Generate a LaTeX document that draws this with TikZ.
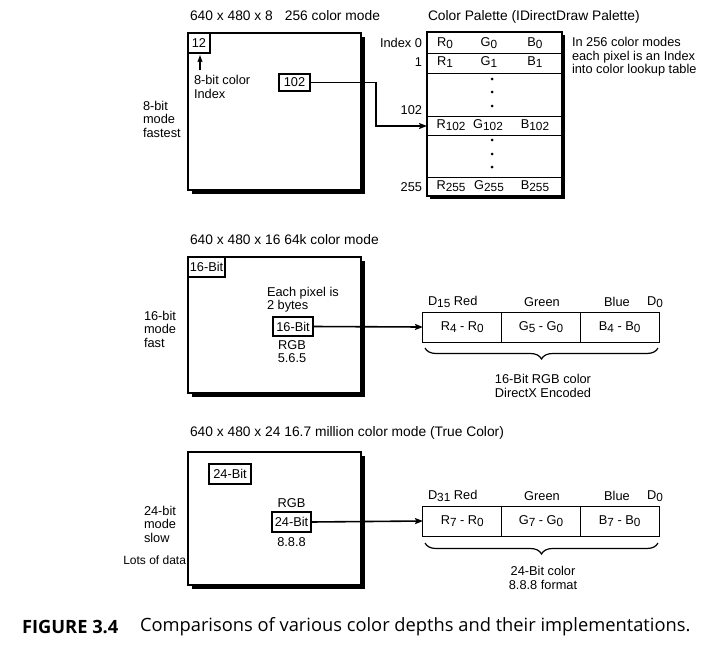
\documentclass[tikz,border=0pt]{standalone}
\usepackage{fontspec}
\setmainfont{Liberation Sans}
\newfontfamily\capfont{Open Sans}
\usetikzlibrary{arrows.meta,shadows,decorations.pathreplacing,calc}
\newcommand\lo[1]{\raisebox{-0.35ex}{\fontsize{11.8}{12}\selectfont #1}}
\begin{document}
\begin{tikzpicture}[x=1pt,y=-1pt,
  every node/.style={inner sep=0pt,outer sep=0pt,font=\fontsize{12.8}{13.5}\selectfont},
  title/.style={anchor=west,font=\fontsize{13.8}{14}\selectfont},
  bigbox/.style={draw,line width=1.8pt,fill=white,anchor=north west,minimum width=173pt,
    drop shadow={shadow xshift=4pt,shadow yshift=-4pt,fill=black,opacity=1}},
  palbox/.style={draw,line width=1.4pt,fill=white,anchor=north west,
    drop shadow={shadow xshift=3pt,shadow yshift=-3pt,fill=black,opacity=1}},
  tagbox/.style={draw,line width=1.5pt,fill=white,minimum height=19pt},
  regcell/.style={draw,line width=1pt,minimum width=78.67pt,minimum height=30pt},
  side/.style={anchor=west,align=left},
  arr/.style={line width=1.6pt,-{Stealth[length=8pt,width=6pt,inset=1.5pt]}},
  brc/.style={line width=1.2pt,decorate,decoration={brace,amplitude=11pt,mirror}},
  dot/.style={circle,fill=black,minimum size=3pt}
]
\useasboundingbox (0,0) rectangle (710,646);

% ---------- section 1 ----------
\node[title] (t1) at (190,16) {640 x 480 x 8\hspace{12pt}256 color mode};
\node[bigbox,minimum height=157pt] (b1) at (188,33) {};
\node[tagbox,anchor=north west,minimum width=22pt,minimum height=20pt] (n12) at (188,33) {12};
\node[side] (lbl8) at (194,87) {8-bit color\\Index};
\coordinate (a12) at (200,70);
\coordinate (h12) at (200,55);
\draw[line width=1.3pt,-{Stealth[length=7pt,width=5pt,inset=1pt]}] (a12) -- (h12);
\node[tagbox,minimum width=31pt,minimum height=17pt] (n102) at (294.5,82.5) {102};
\node[side] (m8) at (143,119) {8-bit\\mode\\fastest};

% palette
\node[title] (pt) at (428,17) {Color Palette (IDirectDraw Palette)};
\node[palbox,minimum width=135pt,minimum height=164pt] (pal) at (427,32) {};
\foreach \yy in {53,73,116,135,177} \draw[line width=1pt] (427,\yy) -- (562,\yy);
\node (r0) at (445,43) {R\lo0};
\node (g0) at (489,43) {G\lo0};
\node (bb0) at (535,43) {B\lo0};
\node (r1) at (445,62) {R\lo1};
\node (g1) at (489,62) {G\lo1};
\node (bb1) at (535,62) {B\lo1};
\node (r102) at (451,125) {R\lo{102}};
\node (g102) at (488,125) {G\lo{102}};
\node (bb102) at (535,125) {B\lo{102}};
\node (r255) at (451,186) {R\lo{255}};
\node (g255) at (489,186) {G\lo{255}};
\node (bb255) at (535,186) {B\lo{255}};
\foreach \yy/\nm in {79/d1,92/d2,106/d3,140/d4,154/d5,167/d6} \node[dot] (\nm) at (492,\yy) {};
\node[anchor=east] (i0) at (422,43) {Index 0};
\node[anchor=east] (i1) at (422,62) {1};
\node[anchor=east] (i102) at (422,110) {102};
\node[anchor=east] (i255) at (422,187) {255};
\node[side] (note) at (572,57) {In 256 color modes\\each pixel is an Index\\into color lookup table};
\coordinate (bend) at (376,126);
\coordinate (p102) at (427,126);
\draw[arr] (n102.east) -| (bend) -- (p102);

% ---------- section 2 ----------
\node[title] (t2) at (190,240) {640 x 480 x 16 64k color mode};
\node[bigbox,minimum height=136pt] (b2) at (188,257) {};
\node[tagbox,anchor=north west,minimum width=37pt,minimum height=20pt] (n16a) at (188,257) {16-Bit};
\node[side] (ep) at (267,299.5) {Each pixel is\\2 bytes};
\node[tagbox,minimum width=40pt] (n16b) at (293,326.5) {16-Bit};
\node (rgb16) at (292,345) {RGB};
\node (f565) at (292,358) {5.6.5};
\node[side] (m16) at (144,329) {16-bit\\mode\\fast};

\node[regcell] (r16a) at (462.3,327) {R\lo4 - R\lo0};
\node[regcell] (r16b) at (541,327) {G\lo5 - G\lo0};
\node[regcell] (r16c) at (619.7,327) {B\lo4 - B\lo0};
\node[anchor=west] (d15) at (428,302) {D\lo{15} Red};
\node (gr16) at (542,302) {Green};
\node (bl16) at (617,302) {Blue};
\node (dz16) at (655,302) {D\lo0};
\draw[arr] (n16b.east) -- (r16a.west);
\coordinate (bl) at (425,348);
\coordinate (br) at (658,348);
\draw[brc] (bl) -- (br);
\node[align=center] (enc16) at (543,386) {16-Bit RGB color\\DirectX Encoded};

% ---------- section 3 ----------
\node[title] (t3) at (190,433) {640 x 480 x 24 16.7 million color mode (True Color)};
\node[bigbox,minimum height=133pt] (b3) at (188,452) {};
\node[tagbox,minimum width=42pt,minimum height=20pt] (n24a) at (230,474) {24-Bit};
\node (rgb24) at (291.5,503) {RGB};
\node[tagbox,minimum width=39pt,minimum height=20pt] (n24b) at (291.5,522) {24-Bit};
\node (f888) at (291.5,542) {8.8.8};
\node[side] (m24) at (144,524) {24-bit\\mode\\slow};
\node[anchor=east,font=\fontsize{12}{13}\selectfont] (lots) at (186,560) {Lots of data};

\node[regcell] (r24a) at (462.3,521) {R\lo7 - R\lo0};
\node[regcell] (r24b) at (541,521) {G\lo7 - G\lo0};
\node[regcell] (r24c) at (619.7,521) {B\lo7 - B\lo0};
\node[anchor=west] (d31) at (428,496) {D\lo{31} Red};
\node (gr24) at (542,496) {Green};
\node (bl24) at (617,496) {Blue};
\node (dz24) at (655,496) {D\lo0};
\draw[arr] (n24b.east) -- (r24a.west);
\coordinate (cl) at (425,543);
\coordinate (cr) at (658,543);
\draw[brc] (cl) -- (cr);
\node[align=center] (enc24) at (543,578) {24-Bit color\\8.8.8 format};

% ---------- caption ----------
\node[anchor=west,font=\capfont\bfseries\fontsize{18.3}{20}\selectfont] (fig) at (22,627) {FIGURE 3.4};
\node[anchor=west,font=\capfont\fontsize{18.3}{20}\selectfont] (cap) at (140,627) {Comparisons of various color depths and their implementations.};
\end{tikzpicture}
\end{document}
